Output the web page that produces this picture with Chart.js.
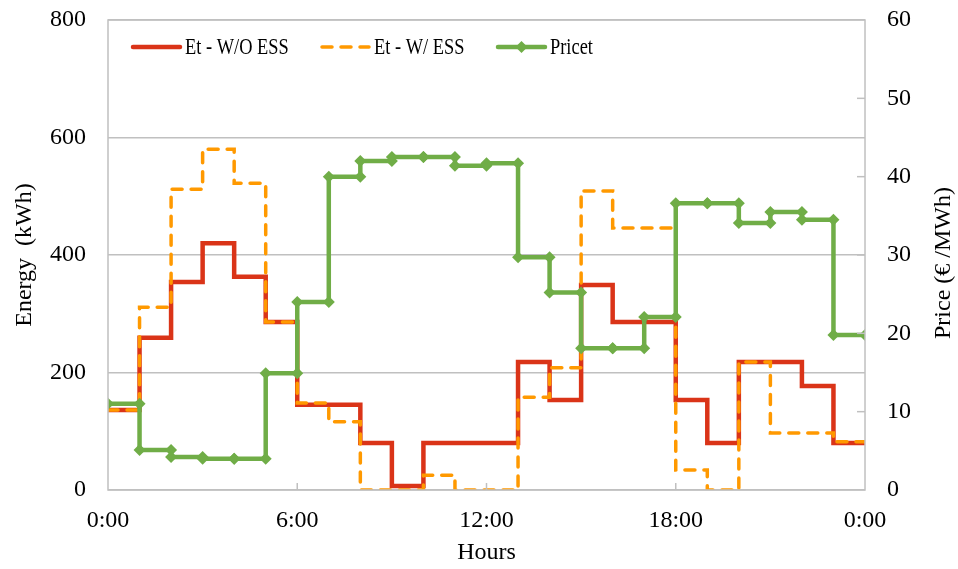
<!DOCTYPE html>
<html lang="en">
<head>
    <meta charset="UTF-8">
    <title>Energy and Price by Hour</title>
    <script src="https://cdn.jsdelivr.net/npm/chart.js"></script>
    <style>
        body {
            margin: 0;
            padding: 0;
            background-color: #ffffff;
        }

        .container {
            width: 958px;
            height: 569px;
        }
    </style>
</head>
<body>
    <div class="container">
        <canvas id="energyChart" width="958" height="569"></canvas>
    </div>

    <script>
        // hourly values
        var hours = [0, 1, 2, 3, 4, 5, 6, 7, 8, 9, 10, 11, 12, 13, 14, 15, 16, 17, 18, 19, 20, 21, 22, 23];
        var energyWithoutEss = [136, 259, 354, 420, 363, 286, 145, 145, 80, 7, 80, 80, 80, 218, 153, 349, 286, 286, 153, 80, 218, 218, 177, 80];
        var energyWithEss = [136, 311, 512, 580, 522, 286, 148, 116, 0, 0, 25, 0, 0, 158, 208, 509, 446, 446, 34, 0, 218, 97, 97, 82];
        var price = [11.0, 5.1, 4.2, 4.0, 4.0, 14.9, 24.0, 40.0, 42.0, 42.5, 42.5, 41.4, 41.7, 29.7, 25.2, 18.1, 18.1, 22.1, 36.6, 36.6, 34.1, 35.5, 34.5, 19.8];
        var xTickLabels = ['0:00', '6:00', '12:00', '18:00', '0:00'];
        var seriesNames = ['Et - W/O ESS', 'Et - W/ ESS', 'Pricet'];
        var priceTitle = 'Price (€ /MWh)';

        var red = 'rgb(218, 52, 24)';
        var orange = 'rgb(255, 153, 0)';
        var green = 'rgb(112, 173, 71)';
        var gray = '#c0c0c0';
        var serif = "'Liberation Serif', 'Times New Roman', serif";

        // one point per hour, plus the closing point at the end of the last hour
        function stepPoints(vals) {
            var pts = vals.map(function (v, i) { return { x: hours[i], y: v }; });
            pts.push({ x: hours[hours.length - 1] + 1, y: vals[vals.length - 1] });
            return pts;
        }

        // price: a marker at both ends of every hour
        function pricePoints(vals) {
            var pts = [];
            vals.forEach(function (v, i) {
                pts.push({ x: hours[i], y: v });
                pts.push({ x: hours[i] + 1, y: v });
            });
            return pts;
        }

        // keep the y axes from pushing the plot down
        function fixWidth(w) {
            return function (scale) {
                scale.width = w;
                scale.paddingTop = 0;
                scale.paddingBottom = 0;
            };
        }

        // frame, inner tick marks, right title and the legend inside the plot
        var framePlugin = {
            id: 'frame',
            afterDraw: function (chart) {
                var ctx = chart.ctx;
                var a = chart.chartArea;
                var xs = chart.scales.x;
                var yr = chart.scales.y1;
                ctx.save();
                ctx.strokeStyle = gray;
                ctx.lineWidth = 1.5;
                ctx.strokeRect(a.left, a.top, a.right - a.left, a.bottom - a.top);
                xs.ticks.forEach(function (t, i) {
                    if (i === 0 || i === xs.ticks.length - 1) return;
                    var px = xs.getPixelForValue(t.value);
                    ctx.beginPath();
                    ctx.moveTo(px, a.bottom);
                    ctx.lineTo(px, a.bottom - 7);
                    ctx.stroke();
                });
                yr.ticks.forEach(function (t, i) {
                    if (i === 0 || i === yr.ticks.length - 1) return;
                    var py = yr.getPixelForValue(t.value);
                    ctx.beginPath();
                    ctx.moveTo(a.right - 8, py);
                    ctx.lineTo(a.right, py);
                    ctx.stroke();
                });

                // right axis title, reading upwards like the left one
                ctx.save();
                ctx.translate(944, (a.top + a.bottom) / 2 + 8);
                ctx.rotate(-Math.PI / 2);
                ctx.fillStyle = '#000000';
                ctx.font = '24px ' + serif;
                ctx.textAlign = 'center';
                ctx.textBaseline = 'middle';
                ctx.fillText(priceTitle, 0, 0);
                ctx.restore();

                // legend
                var ly = 47;
                var items = [
                    { x: 133, color: red, dash: [], width: 4.5, marker: false },
                    { x: 322, color: orange, dash: [10, 9], width: 3.5, marker: false },
                    { x: 498, color: green, dash: [], width: 4.5, marker: true }
                ];
                items.forEach(function (it, i) {
                    ctx.strokeStyle = it.color;
                    ctx.lineWidth = it.width;
                    ctx.lineCap = 'round';
                    ctx.setLineDash(it.dash);
                    ctx.beginPath();
                    ctx.moveTo(it.x, ly);
                    ctx.lineTo(it.x + 47, ly);
                    ctx.stroke();
                    ctx.setLineDash([]);
                    if (it.marker) {
                        ctx.fillStyle = it.color;
                        ctx.beginPath();
                        ctx.moveTo(it.x + 23.5, ly - 6);
                        ctx.lineTo(it.x + 29.5, ly);
                        ctx.lineTo(it.x + 23.5, ly + 6);
                        ctx.lineTo(it.x + 17.5, ly);
                        ctx.closePath();
                        ctx.fill();
                    }
                    ctx.save();
                    ctx.translate(it.x + 52, ly);
                    ctx.scale(0.8, 1);
                    ctx.fillStyle = '#000000';
                    ctx.font = '23px ' + serif;
                    ctx.textBaseline = 'middle';
                    ctx.fillText(seriesNames[i], 0, 1);
                    ctx.restore();
                });
                ctx.restore();
            }
        };

        var ctx = document.getElementById('energyChart').getContext('2d');
        var energyChart = new Chart(ctx, {
            type: 'line',
            data: {
                datasets: [{
                    label: seriesNames[0],
                    data: stepPoints(energyWithoutEss),
                    stepped: 'before',
                    borderColor: red,
                    borderWidth: 4.5,
                    pointRadius: 0,
                    yAxisID: 'y',
                    order: 2
                }, {
                    label: seriesNames[1],
                    data: stepPoints(energyWithEss),
                    stepped: 'before',
                    borderColor: orange,
                    borderWidth: 3.5,
                    borderDash: [10, 9],
                    borderCapStyle: 'round',
                    pointRadius: 0,
                    yAxisID: 'y',
                    order: 1
                }, {
                    label: seriesNames[2],
                    data: pricePoints(price),
                    borderColor: green,
                    borderWidth: 4.5,
                    pointStyle: 'rectRot',
                    pointRadius: 6,
                    pointBackgroundColor: green,
                    pointBorderColor: green,
                    pointBorderWidth: 0,
                    yAxisID: 'y1',
                    order: 0
                }]
            },
            options: {
                responsive: false,
                animation: false,
                layout: {
                    padding: { top: 20, left: 0, right: 0, bottom: 0 }
                },
                plugins: {
                    legend: { display: false },
                    tooltip: { enabled: false }
                },
                scales: {
                    x: {
                        type: 'linear',
                        min: 0,
                        max: 24,
                        afterBuildTicks: function (scale) {
                            scale.ticks = [0, 6, 12, 18, 24].map(function (v) { return { value: v }; });
                        },
                        ticks: {
                            autoSkip: false,
                            maxRotation: 0,
                            padding: 16,
                            color: '#000000',
                            font: { family: serif, size: 24 },
                            callback: function (value) {
                                return xTickLabels[value / 6];
                            }
                        },
                        grid: { display: false, drawTicks: false },
                        border: { display: false },
                        title: {
                            display: true,
                            text: 'Hours',
                            color: '#000000',
                            font: { family: serif, size: 24 },
                            padding: { top: 0, bottom: 2 }
                        },
                        afterFit: function (scale) {
                            scale.height = 79;
                            scale.paddingLeft = 0;
                            scale.paddingRight = 0;
                        }
                    },
                    y: {
                        position: 'left',
                        min: 0,
                        max: 800,
                        ticks: {
                            stepSize: 200,
                            padding: 22,
                            color: '#000000',
                            font: { family: serif, size: 24 }
                        },
                        grid: { color: gray, lineWidth: 1.5, drawTicks: false },
                        border: { display: false },
                        title: {
                            display: true,
                            text: 'Energy  (kWh)',
                            color: '#000000',
                            font: { family: serif, size: 24 },
                            padding: { top: 10, bottom: 0 }
                        },
                        afterFit: fixWidth(108)
                    },
                    y1: {
                        position: 'right',
                        min: 0,
                        max: 60,
                        ticks: {
                            stepSize: 10,
                            padding: 22,
                            color: '#000000',
                            font: { family: serif, size: 24 }
                        },
                        grid: { display: false, drawTicks: false },
                        border: { display: false },
                        title: { display: false },
                        afterFit: fixWidth(93)
                    }
                }
            },
            plugins: [framePlugin]
        });
    </script>
</body>
</html>
